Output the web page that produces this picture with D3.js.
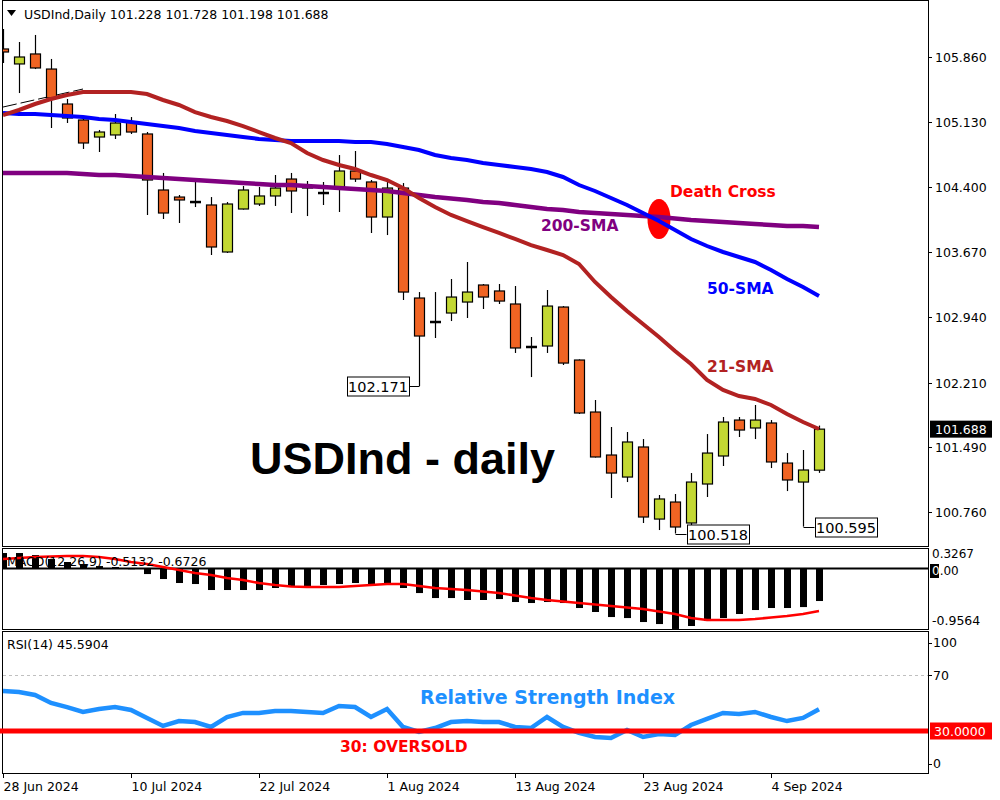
<!DOCTYPE html>
<head>
    <title>USDInd Daily</title>
    <meta charset="utf-8" />
</head>

<style>
    body {
        margin: 0;
        background-color: #ffffff;
    }

    svg {
        display: block;
    }

    .lbl {
        font-family: "DejaVu Sans", sans-serif;
        font-size: 12.5px;
        fill: #000;
    }

    .note {
        font-family: "DejaVu Sans", sans-serif;
        font-weight: bold;
        font-size: 15.5px;
    }
</style>

<body>
    <svg id="chart" width="1000" height="800"></svg>
    <script src="https://d3js.org/d3.v7.min.js"></script>

    <script>
        // daily bars, 28 Jun - 9 Sep 2024
        var dates = ["2024-06-28", "2024-07-01", "2024-07-02", "2024-07-03", "2024-07-04", "2024-07-05",
            "2024-07-08", "2024-07-09", "2024-07-10", "2024-07-11", "2024-07-12", "2024-07-15", "2024-07-16",
            "2024-07-17", "2024-07-18", "2024-07-19", "2024-07-22", "2024-07-23", "2024-07-24", "2024-07-25",
            "2024-07-26", "2024-07-29", "2024-07-30", "2024-07-31", "2024-08-01", "2024-08-02", "2024-08-05",
            "2024-08-06", "2024-08-07", "2024-08-08", "2024-08-09", "2024-08-12", "2024-08-13", "2024-08-14",
            "2024-08-15", "2024-08-16", "2024-08-19", "2024-08-20", "2024-08-21", "2024-08-22", "2024-08-23",
            "2024-08-26", "2024-08-27", "2024-08-28", "2024-08-29", "2024-08-30", "2024-09-02", "2024-09-03",
            "2024-09-04", "2024-09-05", "2024-09-06", "2024-09-09"];

        var open = [105.950, 105.782, 105.894, 105.725, 105.333, 105.154, 104.963, 104.986, 105.131, 104.997,
            104.369, 104.290, 104.236, 104.201, 103.674, 104.156, 104.212, 104.302, 104.492, 104.391,
            104.337, 104.403, 104.582, 104.459, 104.066, 104.391, 103.158, 102.891, 102.990, 103.113,
            103.304, 103.237, 103.091, 102.611, 102.620, 103.057, 102.463, 101.880, 101.398, 101.151,
            101.488, 100.680, 100.871, 100.636, 101.073, 101.387, 101.790, 101.701, 101.757, 101.308,
            101.095, 101.228];
        var high = [106.174, 106.028, 106.107, 105.838, 105.389, 105.176, 105.042, 105.221, 105.187, 105.019,
            104.560, 104.313, 104.503, 104.290, 104.234, 104.414, 104.403, 104.537, 104.560, 104.470,
            104.459, 104.761, 104.806, 104.481, 104.459, 104.447, 103.225, 103.225, 103.371, 103.562,
            103.315, 103.315, 103.293, 102.721, 103.248, 103.068, 102.470, 102.015, 101.712, 101.656,
            101.577, 100.950, 100.961, 101.196, 101.633, 101.824, 101.824, 101.959, 101.790, 101.420,
            101.454, 101.728];
        var low = [105.793, 105.456, 105.725, 105.064, 105.120, 104.829, 104.795, 104.941, 104.997, 104.089,
            104.044, 103.999, 104.178, 103.640, 103.663, 104.150, 104.190, 104.190, 104.111, 104.077,
            104.201, 104.122, 104.459, 103.887, 103.864, 103.136, 102.171, 102.710, 102.900, 102.934,
            103.035, 103.091, 102.542, 102.272, 102.542, 102.407, 101.858, 101.370, 100.916, 101.095,
            100.636, 100.557, 100.518, 100.613, 100.927, 101.275, 101.600, 101.577, 101.252, 100.994,
            100.595, 101.198];
        var close = [105.916, 105.860, 105.737, 105.400, 105.176, 104.896, 105.019, 105.120, 105.019, 104.481,
            104.111, 104.257, 104.232, 103.730, 104.212, 104.369, 104.302, 104.391, 104.358, 104.414,
            104.333, 104.582, 104.492, 104.066, 104.391, 103.225, 102.732, 102.887, 103.169, 103.225,
            103.169, 103.124, 102.598, 102.607, 103.068, 102.429, 101.869, 101.376, 101.196, 101.544,
            100.703, 100.905, 100.591, 101.095, 101.420, 101.768, 101.678, 101.790, 101.320, 101.118,
            101.230, 101.688];

        var sma21 = [105.210, 105.266, 105.333, 105.389, 105.434, 105.468, 105.468, 105.468, 105.468, 105.445,
            105.378, 105.322, 105.243, 105.187, 105.142, 105.086, 105.019, 104.952, 104.896, 104.784,
            104.705, 104.649, 104.604, 104.537, 104.481, 104.391, 104.279, 104.178, 104.089, 104.021,
            103.954, 103.887, 103.820, 103.752, 103.696, 103.640, 103.539, 103.338, 103.169, 103.012,
            102.867, 102.721, 102.564, 102.418, 102.239, 102.127, 102.059, 102.026, 101.959, 101.858,
            101.768, 101.690];
        var sma50 = [105.232, 105.221, 105.221, 105.210, 105.199, 105.187, 105.165, 105.154, 105.131, 105.109,
            105.086, 105.064, 105.030, 105.008, 104.986, 104.963, 104.941, 104.929, 104.918, 104.918,
            104.918, 104.918, 104.907, 104.907, 104.885, 104.851, 104.817, 104.761, 104.728, 104.705,
            104.672, 104.649, 104.627, 104.604, 104.571, 104.515, 104.425, 104.358, 104.279, 104.201,
            104.111, 104.021, 103.920, 103.820, 103.741, 103.674, 103.618, 103.562, 103.472, 103.371,
            103.281, 103.181];
        var sma200 = [104.560, 104.560, 104.560, 104.560, 104.560, 104.548, 104.537, 104.537, 104.526, 104.515,
            104.503, 104.492, 104.481, 104.470, 104.459, 104.447, 104.436, 104.425, 104.425, 104.414,
            104.403, 104.391, 104.380, 104.369, 104.358, 104.335, 104.313, 104.290, 104.274, 104.257,
            104.234, 104.223, 104.201, 104.178, 104.156, 104.145, 104.122, 104.111, 104.100, 104.089,
            104.077, 104.066, 104.050, 104.033, 104.021, 104.010, 103.999, 103.988, 103.977, 103.965,
            103.965, 103.954];
        // short thin line in the top left corner
        var thinLine = [[0, 105.299], [5, 105.501]];

        var macdHist = [0.247, 0.247, 0.215, 0.152, 0.105, 0.073, 0.041, 0.025, -0.010, -0.086,
            -0.165, -0.228, -0.244, -0.339, -0.339, -0.339, -0.339, -0.307, -0.291, -0.276,
            -0.260, -0.244, -0.228, -0.244, -0.244, -0.307, -0.387, -0.466, -0.466, -0.497,
            -0.497, -0.482, -0.529, -0.545, -0.529, -0.545, -0.624, -0.687, -0.767, -0.783,
            -0.846, -0.878, -0.956, -0.909, -0.830, -0.783, -0.719, -0.656, -0.624, -0.624,
            -0.609, -0.5132];
        var macdSignal = [0.152, 0.168, 0.184, 0.192, 0.200, 0.200, 0.184, 0.152, 0.105, 0.073,
            0.025, -0.022, -0.070, -0.101, -0.149, -0.181, -0.228, -0.260, -0.284, -0.291,
            -0.291, -0.291, -0.276, -0.260, -0.244, -0.244, -0.276, -0.307, -0.323, -0.339,
            -0.363, -0.387, -0.426, -0.466, -0.497, -0.521, -0.545, -0.569, -0.592, -0.616,
            -0.640, -0.680, -0.719, -0.783, -0.814, -0.814, -0.814, -0.798, -0.775, -0.751,
            -0.719, -0.6726];

        var rsi = [58.6, 57.9, 55.7, 50.0, 47.1, 43.6, 45.7, 47.1, 45.0, 39.3,
            33.6, 37.1, 36.4, 32.9, 40.0, 42.9, 42.9, 44.3, 44.3, 43.6,
            42.9, 47.9, 47.1, 40.0, 45.7, 32.9, 29.3, 32.1, 36.4, 37.1,
            36.4, 36.4, 32.9, 32.1, 40.0, 32.9, 28.6, 25.7, 25.0, 30.7,
            25.7, 27.9, 27.1, 34.3, 38.6, 42.9, 42.1, 43.6, 40.0, 37.1,
            39.3, 45.5904];

        var priceTicks = ["100.760", "101.490", "102.210", "102.940", "103.670", "104.400", "105.130", "105.860"];
        var macdTicks = ["0.3267", "0.00", "-0.9564"];
        var rsiTicks = ["100", "70", "0"];
        var dateTicks = ["2024-06-28", "2024-07-10", "2024-07-22", "2024-08-01", "2024-08-13", "2024-08-23", "2024-09-04"];
        var dateTickLabels = ["28 Jun 2024", "10 Jul 2024", "22 Jul 2024", "1 Aug 2024", "13 Aug 2024", "23 Aug 2024", "4 Sep 2024"];
        var lowMarks = [102.171, 100.518, 100.595];

        var bullColor = "#c3d833",
            bearColor = "#f06423";

        var svg = d3.select("#chart");
        var left = 3,
            right = 928;

        var x = d3.scaleLinear().domain([0, 57.8125]).range([left, right]);
        var y = d3.scaleLinear().domain([100.378, 106.499]).range([546, 0]);
        var yMacd = d3.scaleLinear().domain([-0.9564, 0.3267]).range([629, 548]);
        var yRsi = d3.scaleLinear().domain([0, 100]).range([773, 633]);

        var idx = d3.range(dates.length);

        function fix(v, n) {
            return (+v).toFixed(n);
        }

        function clip(id, top, bottom) {
            svg.append("clipPath").attr("id", id)
                .append("rect")
                .attr("x", left).attr("y", top)
                .attr("width", right - left).attr("height", bottom - top);
        }
        clip("cPrice", 0, 546);
        clip("cMacd", 548, 629);
        clip("cRsi", 631, 773);

        // panel frames
        [[0, 546], [548, 629], [631, 773]].forEach(function(p) {
            svg.append("rect")
                .attr("x", left - 0.5).attr("y", p[0] + 0.5)
                .attr("width", right - left + 1).attr("height", p[1] - p[0])
                .attr("fill", "none").attr("stroke", "#000");
        });

        // ---------- price panel ----------
        var gp = svg.append("g").attr("clip-path", "url(#cPrice)");

        gp.append("path")
            .datum(thinLine)
            .attr("fill", "none").attr("stroke", "#000").attr("stroke-width", 1)
            .attr("stroke-dasharray", "14,4")
            .attr("d", d3.line().x(function(d) { return x(d[0]); }).y(function(d) { return y(d[1]); }));

        // wicks
        gp.selectAll(".wick").data(idx).enter().append("line")
            .attr("class", "wick")
            .attr("x1", function(i) { return Math.round(x(i)) + 0.5; })
            .attr("x2", function(i) { return Math.round(x(i)) + 0.5; })
            .attr("y1", function(i) { return y(high[i]); })
            .attr("y2", function(i) { return y(low[i]); })
            .attr("stroke", "#000").attr("stroke-width", 1.2);

        // bodies
        idx.forEach(function(i) {
            var yo = y(open[i]),
                yc = y(close[i]);
            var cx = Math.round(x(i));
            if (Math.abs(yo - yc) < 1.5) {
                gp.append("line")
                    .attr("x1", cx - 5).attr("x2", cx + 6)
                    .attr("y1", (yo + yc) / 2).attr("y2", (yo + yc) / 2)
                    .attr("stroke", "#000").attr("stroke-width", 2.5);
            } else {
                gp.append("rect")
                    .attr("x", cx - 4.5)
                    .attr("y", Math.min(yo, yc))
                    .attr("width", 10)
                    .attr("height", Math.abs(yo - yc))
                    .attr("fill", close[i] >= open[i] ? bullColor : bearColor)
                    .attr("stroke", "#000").attr("stroke-width", 1.2);
            }
        });

        // death cross marker, under the averages
        gp.append("ellipse")
            .attr("cx", x(41)).attr("cy", y(104.044))
            .attr("rx", 11.5).attr("ry", 20)
            .attr("fill", "#ff0000");

        var maLine = function(arr) {
            return d3.line()
                .x(function(d, i) { return x(i); })
                .y(function(d) { return y(d); })(arr);
        };
        gp.append("path").attr("d", maLine(sma200))
            .attr("fill", "none").attr("stroke", "#800080").attr("stroke-width", 4.5);
        gp.append("path").attr("d", maLine(sma50))
            .attr("fill", "none").attr("stroke", "#0000ff").attr("stroke-width", 4);
        gp.append("path").attr("d", maLine(sma21))
            .attr("fill", "none").attr("stroke", "#b22222").attr("stroke-width", 4);

        // labelled lows
        lowMarks.forEach(function(v, k) {
            var i = low.indexOf(v);
            var cx = Math.round(x(i)) + 0.5,
                cy = Math.round(y(v)) + 0.5;
            var w = 62,
                h = 19;
            var bx = k === 0 ? cx - 11 - w : cx + 11;
            svg.append("line")
                .attr("x1", cx).attr("x2", k === 0 ? bx + w : bx)
                .attr("y1", cy).attr("y2", cy)
                .attr("stroke", "#000");
            svg.append("rect")
                .attr("x", Math.round(bx) + 0.5).attr("y", Math.round(cy - h / 2))
                .attr("width", w).attr("height", h)
                .attr("fill", "#fff").attr("stroke", "#000");
            svg.append("text")
                .attr("class", "lbl")
                .attr("x", bx + w / 2 + 0.5).attr("y", cy + 5.5)
                .attr("text-anchor", "middle")
                .style("font-size", "14.5px")
                .text(fix(v, 3));
        });

        // price axis
        priceTicks.forEach(function(t) {
            var ty = Math.round(y(+t)) + 0.5;
            svg.append("line").attr("x1", right).attr("x2", right + 4)
                .attr("y1", ty).attr("y2", ty).attr("stroke", "#000");
            svg.append("text").attr("class", "lbl")
                .attr("x", 935).attr("y", ty + 4.5).text(t);
        });
        var last = close.length - 1;
        var lastY = y(close[last]);
        svg.append("rect").attr("x", 930).attr("y", lastY - 8.5)
            .attr("width", 62).attr("height", 17).attr("fill", "#000");
        svg.append("text").attr("class", "lbl")
            .attr("x", 935).attr("y", lastY + 4.5)
            .style("fill", "#fff")
            .text(fix(close[last], 3));

        // header
        svg.append("path").attr("d", "M7,10 L16,10 L11.5,16 Z").attr("fill", "#000");
        svg.append("text").attr("class", "lbl")
            .attr("x", 24).attr("y", 19)
            .text("USDInd,Daily  " + [open[last], high[last], low[last], close[last]].map(function(v) { return fix(v, 3); }).join(" "));

        // annotations
        svg.append("text")
            .attr("x", 250).attr("y", 474)
            .style("font-family", "'Liberation Sans', Arial, sans-serif")
            .style("font-weight", "bold").style("font-size", "45px")
            .text("USDInd - daily");
        svg.append("text").attr("class", "note").attr("x", 670).attr("y", 197)
            .attr("fill", "#ff0000").text("Death Cross");
        svg.append("text").attr("class", "note").attr("x", 541).attr("y", 231)
            .attr("fill", "#800080").text("200-SMA");
        svg.append("text").attr("class", "note").attr("x", 707).attr("y", 294)
            .attr("fill", "#0000ff").text("50-SMA");
        svg.append("text").attr("class", "note").attr("x", 707).attr("y", 372)
            .attr("fill", "#b22222").text("21-SMA");

        // ---------- MACD panel ----------
        var gm = svg.append("g").attr("clip-path", "url(#cMacd)");

        gm.selectAll(".hist").data(macdHist).enter().append("rect")
            .attr("class", "hist")
            .attr("x", function(d, i) { return Math.round(x(i)) - 3; })
            .attr("width", 7)
            .attr("y", function(d) { return Math.min(yMacd(0), yMacd(d)); })
            .attr("height", function(d) { return Math.abs(yMacd(d) - yMacd(0)); })
            .attr("fill", "#000");

        gm.append("line")
            .attr("x1", left).attr("x2", right)
            .attr("y1", yMacd(0)).attr("y2", yMacd(0))
            .attr("stroke", "#000").attr("stroke-width", 2);

        gm.append("path")
            .datum(macdSignal)
            .attr("fill", "none").attr("stroke", "#ff0000").attr("stroke-width", 2.6)
            .attr("d", d3.line().x(function(d, i) { return x(i); }).y(function(d) { return yMacd(d); }));

        svg.append("text").attr("class", "lbl")
            .attr("x", 7).attr("y", 566)
            .text("MACD(12,26,9) " + fix(macdHist[last], 4) + " " + fix(macdSignal[last], 4));

        svg.append("text").attr("class", "lbl").attr("x", 932).attr("y", 558)
            .style("font-size", "12px").text(macdTicks[0]);
        svg.append("rect").attr("x", 930).attr("y", 564).attr("width", 9).attr("height", 14).attr("fill", "#000");
        var zt = svg.append("text").attr("class", "lbl").attr("x", 932).attr("y", yMacd(0) + 6)
            .style("font-size", "12px");
        zt.append("tspan").style("fill", "#fff").text(macdTicks[1].charAt(0));
        zt.append("tspan").text(macdTicks[1].slice(1));
        svg.append("text").attr("class", "lbl").attr("x", 932).attr("y", 625).text(macdTicks[2]);

        // ---------- RSI panel ----------
        var gr = svg.append("g").attr("clip-path", "url(#cRsi)");

        gr.append("line")
            .attr("x1", left).attr("x2", right)
            .attr("y1", Math.round(yRsi(70)) + 0.5).attr("y2", Math.round(yRsi(70)) + 0.5)
            .attr("stroke", "#c0c0c0").attr("stroke-dasharray", "3,3");

        gr.append("path")
            .datum(rsi)
            .attr("fill", "none").attr("stroke", "#1e90ff").attr("stroke-width", 4.5)
            .attr("d", d3.line().x(function(d, i) { return x(i); }).y(function(d) { return yRsi(d); }));

        svg.append("line")
            .attr("x1", 0).attr("x2", right)
            .attr("y1", yRsi(30)).attr("y2", yRsi(30))
            .attr("stroke", "#ff0000").attr("stroke-width", 5);

        svg.append("text").attr("class", "lbl")
            .attr("x", 7).attr("y", 649)
            .text("RSI(14) " + fix(rsi[last], 4));

        svg.append("text").attr("class", "note").attr("x", 420).attr("y", 704)
            .attr("fill", "#1e90ff").style("font-size", "19px").text("Relative Strength Index");
        svg.append("text").attr("class", "note").attr("x", 340).attr("y", 752)
            .attr("fill", "#ff0000").text("30: OVERSOLD");

        // rsi axis
        var rsiTickY = [647, yRsi(70) + 4.5, 768];
        rsiTicks.forEach(function(t, k) {
            svg.append("line").attr("x1", right).attr("x2", right + 4)
                .attr("y1", Math.round(rsiTickY[k] - 4.5) + 0.5).attr("y2", Math.round(rsiTickY[k] - 4.5) + 0.5)
                .attr("stroke", "#000");
            svg.append("text").attr("class", "lbl").attr("x", 933).attr("y", rsiTickY[k]).text(t);
        });
        svg.append("rect").attr("x", 930).attr("y", yRsi(30) - 8.5)
            .attr("width", 62).attr("height", 17).attr("fill", "#ff0000");
        svg.append("text").attr("class", "lbl")
            .attr("x", 934).attr("y", yRsi(30) + 4.5)
            .style("fill", "#fff")
            .text(fix(30, 4));

        // date axis
        dateTicks.forEach(function(d, k) {
            var tx = Math.round(x(dates.indexOf(d))) + 0.5;
            svg.append("line").attr("x1", tx).attr("x2", tx)
                .attr("y1", 773).attr("y2", 778).attr("stroke", "#000");
            svg.append("text").attr("class", "lbl")
                .attr("x", tx).attr("y", 791)
                .text(dateTickLabels[k]);
        });
    </script>
</body>
